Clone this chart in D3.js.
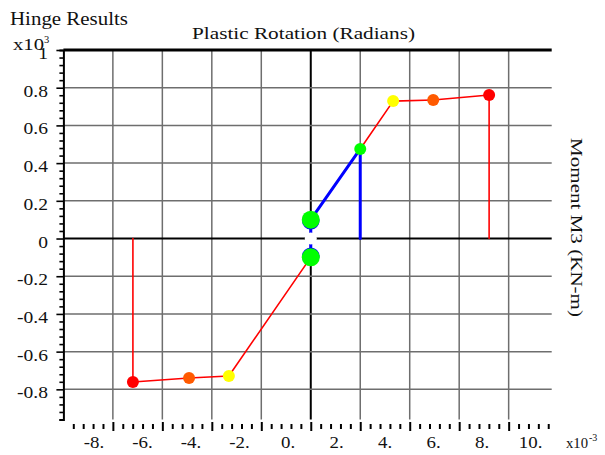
<!DOCTYPE html>
<html>
<head>
<meta charset="utf-8">
<script src="https://cdn.jsdelivr.net/npm/d3@7"></script>
<style>
  html, body { margin: 0; padding: 0; background: #ffffff; }
  svg { display: block; }
  text { font-family: "Liberation Serif", "Times New Roman", serif; fill: #111; }
</style>
</head>
<body>
<svg id="chart" width="605" height="455"></svg>
<script>
// Hinge backbone curve: plastic rotation (x10^-3 rad) vs moment M3 (x10^3 kN-m)
const posRotation = [0, 0, 2.0, 3.33, 4.95, 7.21];
const posMoment   = [0, 0.1, 0.475, 0.729, 0.735, 0.761];
const posState    = ["A", "B", "IO", "LS", "CP", "C"];

const negRotation = [0, 0, -3.31, -4.92, -7.19];
const negMoment   = [0, -0.1, -0.729, -0.74, -0.761];
const negState    = ["A", "B", "LS", "CP", "C"];

// index of the step the hinge has currently reached on the positive side
const currentStep = 2;

const xGridValues = [-8, -6, -4, -2, 0, 2, 4, 6, 8];
const xTickLabels = ["-8.", "-6.", "-4.", "-2.", "0.", "2.", "4.", "6.", "8.", "10."];
const xLabelValues = [-8, -6, -4, -2, 0, 2, 4, 6, 8, 10];
const yGridValues = [-0.8, -0.6, -0.4, -0.2, 0.2, 0.4, 0.6, 0.8];
const yTickValues = [1, 0.8, 0.6, 0.4, 0.2, 0, -0.2, -0.4, -0.6, -0.8];
const yTickLabels = ["1", "0.8", "0.6", "0.4", "0.2", "0", "-0.2", "-0.4", "-0.6", "-0.8"];

const stateColor = { A: "#ffffff", B: "#00ff00", IO: "#00ff00", LS: "#ffff00", CP: "#ff5a00", C: "#ff0000" };
const BLUE = "#0000ff", RED = "#ff0000";

const svg = d3.select("#chart");

// widen glyphs horizontally (the plot's lettering is a wide serif)
function stretch(sel, k) {
  sel.each(function () {
    const w = this.getComputedTextLength();
    d3.select(this).attr("textLength", w * k).attr("lengthAdjust", "spacingAndGlyphs");
  });
  return sel;
}
function fitWidth(sel, w) {
  return sel.attr("textLength", w).attr("lengthAdjust", "spacingAndGlyphs");
}

const x = d3.scaleLinear().domain([-10, 9.74]).range([63.4, 551.7]);
const y = d3.scaleLinear().domain([-0.96, 1]).range([419.5, 50]);
// tick labels sit between grid lines
const xLabel = d3.scaleLinear().domain([-8, 10]).range([94, 530.6]);

// grid
const grid = svg.append("g");
grid.selectAll("line.v").data(xGridValues).join("line")
  .attr("x1", d => x(d)).attr("x2", d => x(d))
  .attr("y1", y(1)).attr("y2", y(-0.96))
  .attr("stroke", d => d === 0 ? "#000" : "#6e6e6e")
  .attr("stroke-width", d => d === 0 ? 2 : 1.5);
grid.selectAll("line.h").data(yGridValues).join("line")
  .attr("x1", x(-10)).attr("x2", x(9.74))
  .attr("y1", d => y(d)).attr("y2", d => y(d))
  .attr("stroke", "#6e6e6e").attr("stroke-width", 1.5);
// zero line and top frame
grid.append("line").attr("x1", x(-10)).attr("x2", x(9.74))
  .attr("y1", y(0)).attr("y2", y(0)).attr("stroke", "#000").attr("stroke-width", 2);
grid.append("line").attr("x1", x(-10)).attr("x2", x(9.74))
  .attr("y1", y(1)).attr("y2", y(1)).attr("stroke", "#000").attr("stroke-width", 3);

// left axis with fine ticks
const yAxis = d3.axisLeft(y)
  .tickValues(d3.range(0, 50).map(i => +(1 - i * 0.04).toFixed(2)))
  .tickSize(4).tickFormat("");
const ya = svg.append("g").attr("transform", `translate(${x(-10)},0)`).call(yAxis);
ya.select(".domain").attr("stroke", "#000").attr("stroke-width", 2);
ya.selectAll(".tick line").attr("stroke", "#000").attr("stroke-width", 1.6)
  .attr("x2", d => (Math.abs(Math.round(d * 5) - d * 5) < 1e-6) ? -7 : -4);

stretch(svg.append("g").selectAll("text").data(yTickValues).join("text")
  .attr("x", 48).attr("y", d => y(d) + 9)
  .attr("text-anchor", "end").attr("font-size", 16)
  .text((d, i) => yTickLabels[i]), 1.22);

// bottom tick row
const xTicks = d3.range(-24, 25).map(i => +(i * 0.4).toFixed(1));
const xAxis = d3.axisBottom(x).tickValues(xTicks).tickSize(5).tickFormat("");
const xa = svg.append("g").attr("transform", "translate(0,424)").call(xAxis);
xa.select(".domain").remove();
xa.selectAll(".tick line").attr("stroke", "#000").attr("stroke-width", 2)
  .attr("y1", d => (Math.abs(d % 2) < 1e-6) ? -2 : 0)
  .attr("y2", d => (Math.abs(d % 2) < 1e-6) ? 7 : 5);

stretch(svg.append("g").selectAll("text").data(xLabelValues).join("text")
  .attr("x", d => xLabel(d)).attr("y", 448)
  .attr("text-anchor", "middle").attr("font-size", 16)
  .text((d, i) => xTickLabels[i]), 1.18);

// curve segments
function segments(rot, mom, colorFor) {
  const segs = [];
  for (let i = 0; i < rot.length - 1; i++) {
    segs.push({ x1: rot[i], y1: mom[i], x2: rot[i + 1], y2: mom[i + 1], color: colorFor(i) });
  }
  return segs;
}
const posSegs = segments(posRotation, posMoment, i => i < currentStep ? BLUE : RED);
const negSegs = segments(negRotation, negMoment, i => i < 1 ? BLUE : RED);
const last = a => a[a.length - 1];
const drops = [
  { x1: last(posRotation), y1: last(posMoment), x2: last(posRotation), y2: 0, color: RED },
  { x1: posRotation[currentStep], y1: posMoment[currentStep], x2: posRotation[currentStep], y2: 0, color: BLUE },
  { x1: last(negRotation), y1: last(negMoment), x2: last(negRotation), y2: 0, color: RED }
];

svg.append("g").selectAll("line").data(posSegs.concat(negSegs, drops)).join("line")
  .attr("x1", d => x(d.x1)).attr("y1", d => y(d.y1))
  .attr("x2", d => x(d.x2)).attr("y2", d => y(d.y2))
  .attr("stroke", d => d.color)
  .attr("stroke-width", d => d.color === BLUE ? 3 : 1.6)
  .attr("stroke-linecap", "round");

// markers
const pts = posRotation.map((r, i) => ({ r, m: posMoment[i], s: posState[i] }))
  .concat(negRotation.map((r, i) => ({ r, m: negMoment[i], s: negState[i] })).slice(1));
const radius = s => s === "B" ? 9 : 6;

const mk = svg.append("g");
// thin blue rim on the yield markers, facing the origin
mk.selectAll("circle.rim").data(pts.filter(p => p.s === "B")).join("circle")
  .attr("cx", d => x(d.r))
  .attr("cy", d => y(d.m) + (d.m > 0 ? 1.1 : -1.1))
  .attr("r", 8.8).attr("fill", BLUE);
mk.selectAll("circle.pt").data(pts).join("circle")
  .attr("cx", d => x(d.r)).attr("cy", d => y(d.m))
  .attr("r", d => radius(d.s))
  .attr("fill", d => stateColor[d.s]);

// titles
fitWidth(svg.append("text").attr("x", 10).attr("y", 25).attr("font-size", 18.5)
  .text("Hinge Results"), 118);
fitWidth(svg.append("text").attr("x", 192).attr("y", 38.5)
  .attr("font-size", 17.5).text("Plastic Rotation (Radians)"), 223);
fitWidth(svg.append("text").attr("transform", "translate(571,138) rotate(90)")
  .attr("font-size", 17.5).text("Moment M3 (KN-m)"), 179);

// axis multipliers
fitWidth(svg.append("text").attr("x", 13).attr("y", 50).attr("font-size", 16).text("x10"), 31);
svg.append("text").attr("x", 44).attr("y", 43).attr("font-size", 10.5).text("3");
fitWidth(svg.append("text").attr("x", 566).attr("y", 448).attr("font-size", 15).text("x10"), 22);
svg.append("text").attr("x", 589).attr("y", 441).attr("font-size", 10).text("-3");
</script>
</body>
</html>
